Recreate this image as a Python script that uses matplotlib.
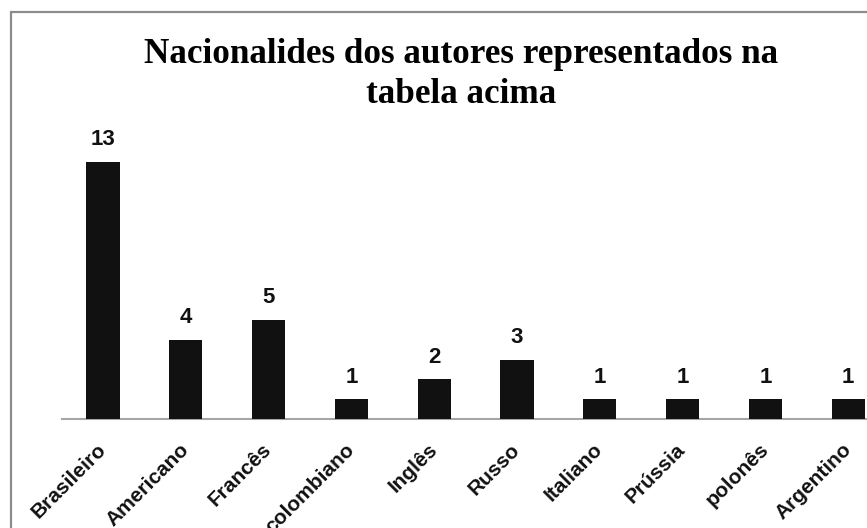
import matplotlib
matplotlib.use("Agg")
import matplotlib.pyplot as plt
from matplotlib.patches import Rectangle

# data
nacionalidades = ["Brasileiro", "Americano", "Francês", "colombiano", "Inglês",
                  "Russo", "Italiano", "Prússia", "polonês", "Argentino"]
autores = [13, 4, 5, 1, 2, 3, 1, 1, 1, 1]

W, H = 867, 528
fig = plt.figure(figsize=(W / 100, H / 100), dpi=100)

# plot area extends past the right edge (the original screenshot is cropped)
left_px, base_px, cat_px = 61.6, 419, 82.8
ax = fig.add_axes([left_px / W, (H - base_px) / H,
                   cat_px * len(autores) / W, 14 * 19.77 / H])

x = list(range(len(autores)))
ax.bar(x, autores, width=0.4, color="#111111", zorder=3)
ax.set_xlim(-0.5, len(autores) - 0.5)
ax.set_ylim(0, 14)

for xi, v in zip(x, autores):
    ax.annotate(str(v), (xi, v), xytext=(0, 12), textcoords="offset points",
                ha="center", va="baseline", fontsize=16, fontweight="bold",
                family="Liberation Sans", color="#111111",
                annotation_clip=False)

for s in ["top", "right", "left"]:
    ax.spines[s].set_visible(False)
ax.spines["bottom"].set_color("#a6a6a6")
ax.spines["bottom"].set_linewidth(1.5)
ax.set_yticks([])
ax.set_xticks(x)
ax.set_xticklabels(nacionalidades, rotation=45, ha="right", va="center",
                   rotation_mode="anchor", fontsize=15, fontweight="bold",
                   family="Liberation Sans", color="#111111")
ax.tick_params(axis="x", length=0, pad=20)

# title, two lines, Times-like bold
cx = 461.5 / W
fig.text(cx, 1 - 63 / H, "Nacionalides dos autores representados na",
         ha="center", va="baseline", fontsize=25.3, fontweight="bold",
         family="Liberation Serif")
fig.text(cx, 1 - 103 / H, "tabela acima",
         ha="center", va="baseline", fontsize=25.3, fontweight="bold",
         family="Liberation Serif")

# grey chart border (right and bottom sides fall outside the crop)
fig.patches.append(Rectangle((11 / W, -0.2), 2, 1.2 - 12 / H,
                             transform=fig.transFigure, fill=False,
                             edgecolor="#8c8c8c", linewidth=1.6))

fig.savefig("out.png", dpi=100)
